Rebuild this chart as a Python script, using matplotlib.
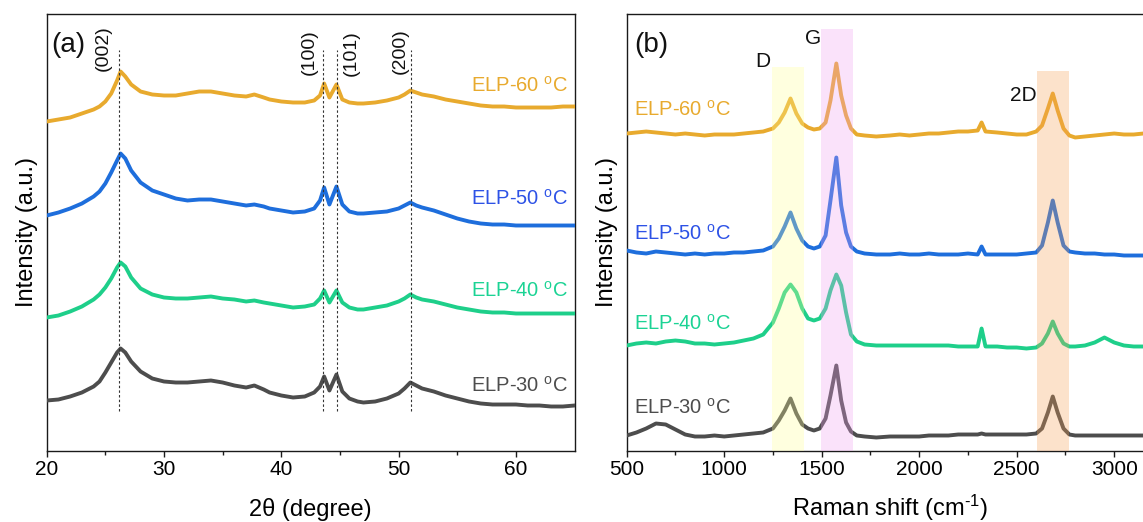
import matplotlib
matplotlib.use("Agg")
import matplotlib.pyplot as plt
import numpy as np

plt.rcParams['font.family'] = ['Liberation Sans', 'DejaVu Sans']
plt.rcParams['mathtext.fontset'] = 'custom'
plt.rcParams['mathtext.rm'] = 'Liberation Sans'
plt.rcParams['mathtext.it'] = 'Liberation Sans:italic'
plt.rcParams['mathtext.bf'] = 'Liberation Sans:bold'

# ---------------- XRD data (offset-stacked intensities, a.u.) ----------------
two_theta = [20, 21, 22, 23, 24, 24.5, 25, 25.5, 26, 26.3, 26.7, 27.2, 28, 29, 30,
             31, 32, 33, 34, 35, 36, 37, 37.7, 38.5, 39, 40, 41, 42, 42.8, 43.3,
             43.65, 44.1, 44.7, 45.2, 45.8, 46.5, 47, 48, 49, 50, 50.5, 51, 51.5, 52, 53,
             54, 55, 56, 57, 58, 59, 60, 61, 62, 63, 64, 65]

xrd_60 = [329, 331, 333, 337, 341, 344, 349, 357, 370, 379, 374, 366, 359, 356, 355,
          355, 357, 359, 359, 357, 355, 354, 356, 353, 351, 349, 348, 348, 350, 355,
          367, 353, 366, 351, 348, 347, 347, 348, 350, 353, 356, 360, 358, 356, 354,
          351, 349, 347, 345, 344, 344, 343, 343, 343, 343, 344, 344]
xrd_50 = [235, 238, 242, 247, 254, 259, 267, 278, 290, 297, 292, 280, 268, 260, 256,
          252, 250, 251, 251, 249, 247, 245, 246, 244, 242, 240, 238, 239, 242, 250,
          263, 246, 264, 246, 239, 237, 237, 238, 239, 242, 245, 248, 245, 243, 240,
          236, 232, 229, 227, 226, 226, 225, 225, 225, 225, 225, 225]
xrd_40 = [133, 135, 139, 144, 151, 156, 163, 172, 183, 188, 184, 173, 162, 156, 153,
          152, 152, 153, 154, 152, 151, 149, 150, 148, 147, 145, 143, 144, 146, 152,
          160, 148, 160, 148, 143, 141, 141, 143, 145, 149, 152, 156, 153, 151, 149,
          146, 143, 141, 139, 138, 138, 137, 137, 137, 137, 137, 137]
xrd_30 = [50, 51, 54, 58, 64, 69, 78, 88, 98, 102, 98, 89, 79, 72, 69,
          68, 68, 69, 70, 68, 65, 63, 65, 61, 58, 55, 53, 54, 58, 64,
          74, 60, 76, 59, 52, 49, 48, 49, 52, 57, 62, 68, 65, 62, 59,
          55, 52, 49, 47, 46, 46, 46, 45, 45, 44, 44, 45]

hkl_labels = ['(002)', '(100)', '(101)', '(200)']
hkl_positions = [26.15, 43.55, 44.75, 51.05]

# ---------------- Raman data (offset-stacked intensities, a.u.) ----------------
raman_shift = [500, 550, 600, 650, 700, 750, 800, 850, 900, 950, 1000, 1050, 1100, 1150, 1200,
               1250, 1280, 1310, 1340, 1370, 1400, 1430, 1460, 1490, 1520, 1545, 1575, 1600, 1625, 1650,
               1680, 1720, 1780, 1850, 1900, 1950, 2000, 2050, 2100, 2150, 2200, 2250, 2300, 2320, 2340,
               2400, 2450, 2500, 2550, 2600, 2630, 2660, 2685, 2710, 2740, 2770, 2800, 2850, 2900, 2950,
               3000, 3050, 3100, 3150, 3200]

raman_60 = [317, 318, 319, 318, 317, 316, 317, 316, 315, 316, 316, 316, 317, 318, 319,
            322, 328, 338, 352, 337, 327, 323, 321, 322, 328, 350, 387, 355, 335, 322,
            316, 315, 314, 315, 316, 315, 316, 317, 317, 318, 319, 319, 320, 328, 319,
            318, 317, 316, 316, 319, 325, 342, 357, 340, 322, 315, 313, 314, 315, 316,
            317, 316, 316, 317, 317]
raman_50 = [200, 198, 197, 199, 198, 197, 196, 197, 196, 197, 197, 198, 198, 199, 200,
            204, 212, 224, 238, 222, 210, 204, 202, 204, 215, 250, 293, 245, 218, 204,
            199, 197, 196, 196, 197, 196, 196, 197, 196, 196, 196, 197, 196, 204, 196,
            196, 196, 196, 197, 198, 205, 228, 250, 228, 205, 199, 198, 197, 197, 196,
            196, 195, 195, 195, 195]
raman_40 = [105, 107, 108, 107, 109, 110, 109, 107, 107, 106, 107, 108, 110, 112, 116,
            128, 142, 158, 166, 158, 142, 132, 130, 132, 142, 160, 176, 165, 138, 116,
            109, 106, 105, 105, 105, 105, 105, 105, 105, 105, 104, 104, 104, 122, 104,
            104, 103, 103, 102, 103, 107, 117, 129, 117, 107, 104, 104, 105, 108, 113,
            108, 105, 104, 104, 104]
raman_30 = [15, 18, 22, 27, 26, 21, 16, 14, 14, 15, 14, 15, 16, 17, 18,
            22, 30, 40, 52, 37, 26, 22, 20, 22, 32, 55, 85, 50, 28, 19,
            15, 14, 13, 14, 14, 14, 14, 15, 15, 15, 16, 16, 16, 17, 16,
            16, 16, 16, 16, 17, 22, 38, 54, 38, 22, 16, 15, 15, 15, 15,
            15, 15, 15, 15, 15]

band_names = ['D', 'G', '2D']
band_ranges = [(1245, 1410), (1497, 1662), (2604, 2768)]

sample_names = ['ELP-60', 'ELP-50', 'ELP-40', 'ELP-30']
line_colors = ['#E8AA2E', '#1E6EDC', '#1ECF8A', '#4D4D4D']
text_colors = ['#E8AA2E', '#2D52E6', '#1BD394', '#4D4D4D']

xrd_curves = [xrd_60, xrd_50, xrd_40, xrd_30]
raman_curves = [raman_60, raman_50, raman_40, raman_30]

# ---------------- figure ----------------
fig = plt.figure(figsize=(11.43, 5.22), dpi=100)
W, H = 1143.0, 522.0
ax1 = fig.add_axes([46.7 / W, (H - 450.5) / H, 527.9 / W, 436.5 / H])
ax2 = fig.add_axes([626.7 / W, (H - 450.5) / H, 526.5 / W, 436.5 / H])

tick_fs = 15
label_fs = 17
curve_lw = 2.8


def style_axes(ax):
    for sp in ax.spines.values():
        sp.set_linewidth(1.0)
        sp.set_color('#1a1a1a')
    ax.set_yticks([])
    ax.tick_params(axis='x', which='major', direction='out', length=4.5, width=1.0,
                   labelsize=tick_fs, pad=2, color='#1a1a1a')
    ax.tick_params(axis='x', which='minor', direction='out', length=2.6, width=1.0,
                   color='#1a1a1a')
    ax.set_ylabel('Intensity (a.u.)', fontsize=label_fs, labelpad=6)


# XRD panel
for ys, c in zip(xrd_curves, line_colors):
    ax1.plot(two_theta, ys, color=c, lw=curve_lw, solid_joinstyle='round', zorder=3)
for pos in hkl_positions:
    ax1.plot([pos, pos], [40, 401], ls=(0, (2.2, 2.0)), color='#333333', lw=0.8, zorder=4)
hkl_text_x = [24.8, 42.42, 46.0, 50.1]
hkl_text_y = [402, 398, 397, 399]
for tx, ty, lab in zip(hkl_text_x, hkl_text_y, hkl_labels):
    ax1.text(tx, ty, lab, rotation=90, ha='center', va='center', fontsize=14, color='#111111')

ax1.text(20.35, 405, '(a)', fontsize=20, ha='left', va='center', color='#111111')
xrd_label_y = [365, 252, 160, 65]
for name, c, ty in zip(sample_names, text_colors, xrd_label_y):
    ax1.text(64.45, ty, name + r' $^{\mathregular{o}}$C', color=c, fontsize=14.5,
             ha='right', va='center')

ax1.set_xlim(20, 65)
ax1.set_ylim(0, 436.5)
ax1.set_xticks([20, 30, 40, 50, 60])
ax1.set_xticks(np.arange(25, 65, 10), minor=True)
ax1.set_xlabel('2θ (degree)', fontsize=label_fs, labelpad=14)
style_axes(ax1)

# Raman panel
for ys, c in zip(raman_curves, line_colors):
    ax2.plot(raman_shift, ys, color=c, lw=curve_lw, solid_joinstyle='round', zorder=3)

band_colors = ['#FFFF96', '#F0A0F0', '#F7A055']
band_tops = [384, 422, 380]
for (lo, hi), bc, top in zip(band_ranges, band_colors, band_tops):
    ax2.fill_between([lo, hi], 0, top, color=bc, alpha=0.30, lw=0, zorder=5)

band_text_x = [1199, 1455, 2532]
band_text_y = [389, 412, 355]
for tx, ty, lab in zip(band_text_x, band_text_y, band_names):
    ax2.text(tx, ty, lab, ha='center', va='center', fontsize=15, color='#111111', zorder=6)

ax2.text(537, 405, '(b)', fontsize=20, ha='left', va='center', color='#111111')
raman_label_y = [341, 217, 127, 43]
for name, c, ty in zip(sample_names, text_colors, raman_label_y):
    ax2.text(537, ty, name + r' $^{\mathregular{o}}$C', color=c, fontsize=14.5,
             ha='left', va='center', zorder=6)

ax2.set_xlim(500, 3200)
ax2.set_ylim(0, 436.5)
ax2.set_xticks([500, 1000, 1500, 2000, 2500, 3000])
ax2.set_xticks(np.arange(750, 3200, 500), minor=True)
ax2.set_xlabel(r'Raman shift (cm$^{\mathregular{\text{-}1}}$)', fontsize=label_fs, labelpad=10)
style_axes(ax2)

fig.savefig('out.png', dpi=100)
